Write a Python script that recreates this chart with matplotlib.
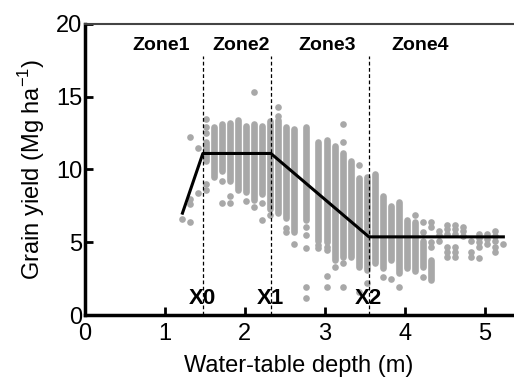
import matplotlib.pyplot as plt

# dense (overplotted) columns of points: depth, lowest and highest yield
band_depth = [1.52, 1.62, 1.72, 1.82, 1.92, 2.02, 2.12, 2.22, 2.32, 2.42,
              2.52, 2.62, 2.77, 2.92, 3.02, 3.12, 3.22, 3.32, 3.42, 3.52,
              3.62, 3.72, 3.82, 3.92, 4.02, 4.12, 4.22, 4.32]
band_low = [10.6, 9.5, 9.9, 9.2, 8.6, 8.45, 7.9, 8.3, 7.3, 7.0,
            6.65, 5.7, 6.5, 5.1, 5.0, 3.8, 4.0, 4.0, 3.3, 3.1,
            3.55, 3.2, 3.8, 2.9, 3.2, 3.0, 3.3, 2.4]
band_high = [11.9, 12.9, 13.1, 13.2, 13.4, 13.0, 13.1, 13.0, 13.3, 13.4,
             12.9, 12.8, 12.9, 11.9, 12.0, 11.6, 11.1, 10.6, 9.4, 9.5,
             9.7, 8.2, 7.5, 7.75, 6.5, 6.4, 5.1, 3.8]

# single points
pt_depth = [1.22,
            1.32, 1.32, 1.32, 1.32,
            1.42, 1.42,
            1.52, 1.52, 1.52, 1.52, 1.52,
            1.72, 1.72, 1.82, 1.82, 2.02,
            2.12, 2.12, 2.22, 2.22, 2.32,
            2.42, 2.42, 2.52, 2.52, 2.62,
            2.77, 2.77, 2.77, 2.77, 2.77,
            2.92, 2.92,
            3.02, 3.02, 3.02, 3.02,
            3.12,
            3.22, 3.22, 3.22, 3.22,
            3.42, 3.42, 3.52,
            3.72, 3.82, 3.92,
            4.12, 4.22, 4.22, 4.22,
            4.32, 4.32, 4.32, 4.32,
            4.42, 4.42, 4.42,
            4.52, 4.52, 4.52, 4.52, 4.52, 4.52,
            4.62, 4.62, 4.62, 4.62, 4.62, 4.62,
            4.72, 4.72, 4.72,
            4.82, 4.82, 4.82,
            4.92, 4.92, 4.92, 4.92, 4.92,
            5.02, 5.02, 5.02,
            5.12, 5.12, 5.12, 5.12, 5.12,
            5.22]
pt_yield = [6.6,
            6.4, 7.6, 8.0, 12.2,
            8.4, 11.5,
            13.5, 12.9, 12.5, 9.0, 8.6,
            9.2, 7.7, 8.2, 7.7, 7.8,
            15.3, 7.4, 7.7, 6.5, 6.85,
            13.7, 14.3, 6.0, 5.7, 4.9,
            6.05, 5.5, 4.6, 1.9, 1.2,
            4.8, 4.6,
            4.7, 4.5, 2.7, 1.9,
            3.3,
            11.9, 13.1, 3.55, 1.9,
            10.3, 1.6, 2.2,
            2.6, 2.5, 1.95,
            6.85, 6.4, 5.7, 2.6,
            6.4, 6.05, 5.0, 4.7,
            5.8, 5.5, 5.1,
            6.2, 5.9, 5.55, 4.7, 4.35, 4.0,
            6.2, 5.9, 5.55, 4.7, 4.35, 4.0,
            6.05, 5.75, 5.4,
            5.1, 4.3, 4.0,
            5.6, 5.3, 5.0, 4.7, 3.95,
            5.6, 5.2, 4.85,
            5.8, 5.45, 5.1, 4.7, 4.3,
            4.9]

# piecewise fit
fit_depth = [1.22, 1.475, 2.325, 3.55, 5.23]
fit_yield = [7.0, 11.1, 11.1, 5.37, 5.37]

breaks = [1.475, 2.325, 3.55]
break_labels = ["X0", "X1", "X2"]
zone_labels = ["Zone1", "Zone2", "Zone3", "Zone4"]
zone_pos = [0.95, 1.95, 3.03, 4.19]

plt.rcParams["font.family"] = ["Liberation Sans", "DejaVu Sans"]

fig = plt.figure(figsize=(5.14, 3.80), dpi=100)
ax = fig.add_axes([0.165, 0.171, 0.833, 0.766])

gray = "#a8a8a8"
ax.vlines(band_depth, band_low, band_high, colors=gray, linewidth=4.8,
          capstyle="round", zorder=2)
ax.scatter(pt_depth, pt_yield, s=23, color=gray, linewidths=0, zorder=2)
ax.vlines(breaks, 0, 17.8, colors="black", linewidth=0.9,
          linestyles=(0, (3, 2)), zorder=3)
ax.plot(fit_depth, fit_yield, color="black", lw=2.2, zorder=4)

for x, lab in zip(zone_pos, zone_labels):
    ax.text(x, 18.5, lab, ha="center", va="center", fontsize=14,
            fontweight="bold")
for x, lab in zip(breaks, break_labels):
    ax.text(x, 0.4, lab, ha="center", va="bottom", fontsize=16,
            fontweight="bold")

ax.set_xlim(0, 5.35)
ax.set_ylim(0, 20)
ax.set_xticks([0, 1, 2, 3, 4, 5])
ax.set_yticks([0, 5, 10, 15, 20])

ax.spines["right"].set_visible(False)
ax.spines["left"].set_linewidth(2.5)
ax.spines["bottom"].set_linewidth(2.5)
ax.spines["top"].set_linewidth(1.5)
ax.spines["top"].set_color("#444444")

ax.tick_params(direction="in", length=6, width=2, labelsize=17)
ax.tick_params(axis="x", pad=6)
ax.tick_params(axis="y", pad=2)

ax.set_xlabel("Water-table depth (m)", fontsize=17, labelpad=7)
ax.set_ylabel(r"Grain yield (Mg ha$^{\mathregular{-1}}$)", fontsize=17,
              labelpad=6)

fig.savefig("out.png", dpi=100)
